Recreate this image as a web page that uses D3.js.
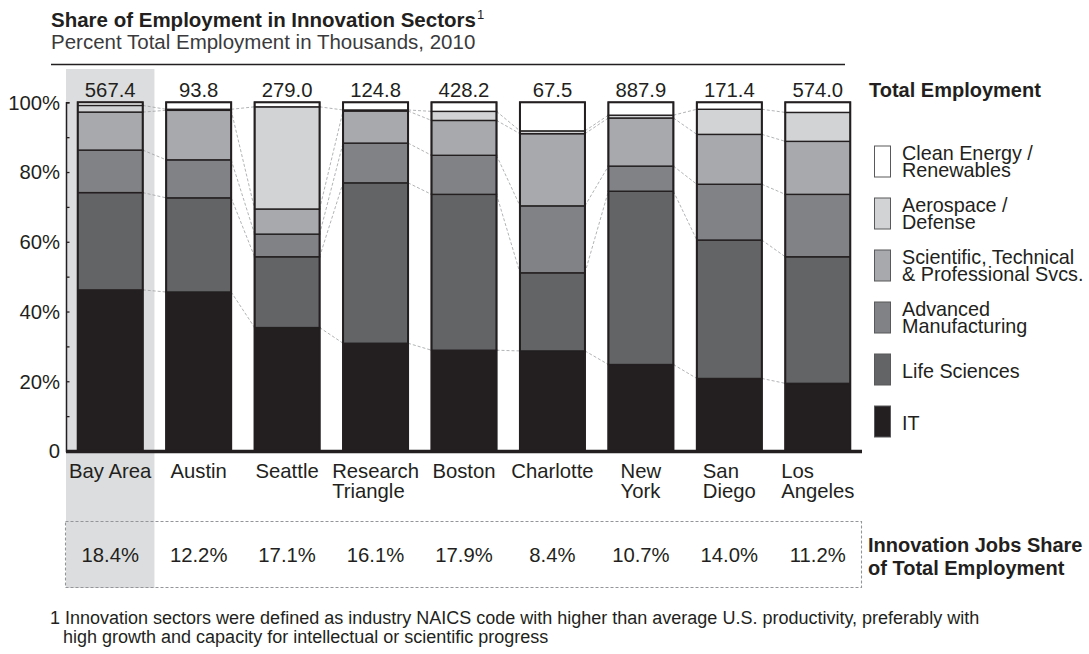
<!DOCTYPE html>
<html>
<head>
<meta charset="utf-8">
<script src="https://cdn.jsdelivr.net/npm/d3@7/dist/d3.min.js"></script>
<style>
  html, body { margin: 0; padding: 0; background: #fff; }
  svg { display: block; font-family: "Liberation Sans", Arial, Helvetica, sans-serif; }
</style>
</head>
<body>
<svg id="chart" width="1089" height="654"></svg>
<script>
// ---------------- data ----------------
const categories = ["Bay Area", "Austin", "Seattle", "Research Triangle", "Boston", "Charlotte", "New York", "San Diego", "Los Angeles"];
const categoryLines = [["Bay Area"], ["Austin"], ["Seattle"], ["Research", "Triangle"], ["Boston"], ["Charlotte"], ["New", "York"], ["San", "Diego"], ["Los", "Angeles"]];
const seriesNames = ["IT", "Life Sciences", "Advanced Manufacturing", "Scientific, Technical & Professional Svcs.", "Aerospace / Defense", "Clean Energy / Renewables"];
const it            = [46.2, 45.6, 35.4, 30.9, 28.9, 28.7, 24.8, 20.8, 19.4];
const lifeSciences  = [27.9, 27.0, 20.3, 46.0, 44.7, 22.4, 49.7, 39.7, 36.3];
const advMfg        = [12.2, 10.9,  6.5, 11.4, 11.2, 19.2,  7.2, 16.0, 17.9];
const sciTech       = [10.9, 14.2,  7.2,  9.2, 10.0, 20.7, 13.8, 14.3, 15.2];
const aerospace     = [ 1.9,  0.3, 29.3,  0.3,  2.6,  0.8,  0.8,  7.2,  8.3];
const cleanEnergy   = [ 0.9,  2.0,  1.3,  2.2,  2.6,  8.2,  3.7,  2.0,  2.9];
const totalEmployment = [567.4, 93.8, 279.0, 124.8, 428.2, 67.5, 887.9, 171.4, 574.0];
const innovationShare = [18.4, 12.2, 17.1, 16.1, 17.9, 8.4, 10.7, 14.0, 11.2];
const yTickValues = [0, 10, 20, 30, 40, 50, 60, 70, 80, 90, 100];
const legendLines = [["Clean Energy /", "Renewables"], ["Aerospace /", "Defense"], ["Scientific, Technical", "& Professional Svcs."], ["Advanced", "Manufacturing"], ["Life Sciences"], ["IT"]];
const footnoteLines = ["1 Innovation sectors were defined as industry NAICS code with higher than average U.S. productivity, preferably with",
                       "high growth and capacity for intellectual or scientific progress"];

// ---------------- style ----------------
const colors = ["#231f20", "#636466", "#808285", "#a7a9ac", "#d1d3d4", "#ffffff"];
const ink = "#231f20";

const svg = d3.select("#chart");

function txt(parent, x, y, s, o = {}) {
  return parent.append("text")
    .attr("x", x).attr("y", y)
    .attr("text-anchor", o.anchor || "start")
    .style("font-size", (o.size || 20.3) + "px")
    .style("font-weight", o.weight || 400)
    .style("fill", o.fill || ink)
    .text(s);
}

// ---------------- scales ----------------
const x = d3.scaleBand().domain(categories).range([66, 862]).paddingInner(0.265).paddingOuter(0.1325);
const y = d3.scaleLinear().domain([0, 100]).range([451, 102.3]);
const bw = x.bandwidth();

const rows = categories.map((c, i) => ({
  cat: c,
  [seriesNames[0]]: it[i], [seriesNames[1]]: lifeSciences[i], [seriesNames[2]]: advMfg[i],
  [seriesNames[3]]: sciTech[i], [seriesNames[4]]: aerospace[i], [seriesNames[5]]: cleanEnergy[i]
}));
const stacked = d3.stack().keys(seriesNames)(rows);

// ---------------- highlight ----------------
svg.append("rect")
  .attr("x", x.range()[0]).attr("y", 69)
  .attr("width", x.step()).attr("height", 588 - 69)
  .attr("fill", "#dcddde");

// ---------------- title ----------------
const title = txt(svg, 51, 27, "Share of Employment in Innovation Sectors", { size: 20.5, weight: 700 });
const tw = title.node().getComputedTextLength();
txt(svg, 51 + tw + 1, 19, "1", { size: 13 });
txt(svg, 51, 48.5, "Percent Total Employment in Thousands, 2010", { size: 20.5, fill: "#3a3a3c" });
svg.append("line").attr("x1", 51).attr("x2", 845).attr("y1", 64.5).attr("y2", 64.5)
  .attr("stroke", ink).attr("stroke-width", 1.6);

// ---------------- connectors ----------------
const conn = svg.append("g").attr("fill", "none").attr("stroke", "#9d9fa2")
  .attr("stroke-width", 0.8).attr("stroke-dasharray", "3,2");
stacked.slice(0, 5).forEach(s => {
  for (let i = 0; i < categories.length - 1; i++) {
    conn.append("line")
      .attr("x1", x(categories[i]) + bw).attr("y1", y(s[i][1]))
      .attr("x2", x(categories[i + 1])).attr("y2", y(s[i + 1][1]));
  }
});

// ---------------- bars ----------------
const layer = svg.append("g").selectAll("g").data(stacked).join("g")
  .attr("fill", (d, i) => colors[i]);
layer.selectAll("rect").data(d => d.map((v, i) => ({ v, cat: categories[i] }))).join("rect")
  .attr("x", d => x(d.cat))
  .attr("y", d => y(d.v[1]))
  .attr("width", bw)
  .attr("height", d => y(d.v[0]) - y(d.v[1]))
  .attr("stroke", ink).attr("stroke-width", 1.4);
svg.append("g").selectAll("rect").data(categories).join("rect")
  .attr("x", d => x(d)).attr("y", y(100)).attr("width", bw).attr("height", y(0) - y(100))
  .attr("fill", "none").attr("stroke", ink).attr("stroke-width", 2);

// ---------------- y axis ----------------
const yAxis = d3.axisLeft(y).tickValues(yTickValues)
  .tickSizeInner(-3.5).tickSizeOuter(-3.5).tickPadding(6)
  .tickFormat(d => d % 20 === 0 ? (d === 0 ? "0" : d + "%") : "");
const ga = svg.append("g").attr("transform", "translate(66,0)").call(yAxis);
ga.select(".domain").attr("stroke", ink).attr("stroke-width", 1.5);
ga.selectAll(".tick line").attr("stroke", ink).attr("stroke-width", 1.3);
ga.selectAll(".tick text")
  .attr("x", -6).attr("dy", "0.34em")
  .style("font-size", "20.3px").style("font-family", "Liberation Sans, Arial, sans-serif").attr("fill", ink);

// baseline
svg.append("line").attr("x1", 66).attr("x2", 862).attr("y1", y(0) + 0.5).attr("y2", y(0) + 0.5)
  .attr("stroke", ink).attr("stroke-width", 3.5);

// ---------------- total employment labels ----------------
categories.forEach((c, i) => {
  txt(svg, x(c) + bw / 2, 96.5, d3.format(".1f")(totalEmployment[i]), { anchor: "middle" });
});
txt(svg, 869, 96.5, "Total Employment", { weight: 700, size: 20 });

// ---------------- category labels ----------------
categories.forEach((c, i) => {
  const lines = categoryLines[i];
  const g = svg.append("g");
  const ts = lines.map((l, k) => txt(g, 0, 478 + k * 19.5, l));
  const w = d3.max(ts, t => t.node().getComputedTextLength());
  const x0 = x(c) + bw / 2 - w / 2;
  ts.forEach(t => t.attr("x", x0));
});

// ---------------- innovation share box ----------------
svg.append("rect").attr("x", 65.5).attr("y", 521.5).attr("width", 861.5 - 65.5).attr("height", 587.5 - 521.5)
  .attr("fill", "none").attr("stroke", "#939598").attr("stroke-width", 1.1).attr("stroke-dasharray", "3,2");
categories.forEach((c, i) => {
  txt(svg, x(c) + bw / 2, 561.5, d3.format(".1f")(innovationShare[i]) + "%", { anchor: "middle" });
});
txt(svg, 868, 551.5, "Innovation Jobs Share", { weight: 700, size: 20 });
txt(svg, 868, 574.5, "of Total Employment", { weight: 700, size: 20 });

// ---------------- legend ----------------
const legendKeys = seriesNames.slice().reverse();
legendKeys.forEach((k, j) => {
  const top = 146 + j * 52;
  const ci = seriesNames.indexOf(k);
  svg.append("rect").attr("x", 874.5).attr("y", top).attr("width", 16).attr("height", 31)
    .attr("fill", colors[ci]).attr("stroke", "#58595b").attr("stroke-width", 1);
  const lines = legendLines[j];
  if (lines.length === 2) {
    txt(svg, 902, top + 13.5, lines[0], { size: 19.8 });
    txt(svg, 902, top + 31, lines[1], { size: 19.8 });
  } else {
    txt(svg, 902, top + 23.5, lines[0], { size: 19.8 });
  }
});

// ---------------- footnote ----------------
txt(svg, 50, 624, footnoteLines[0], { size: 18 });
txt(svg, 63, 643, footnoteLines[1], { size: 18 });
</script>
</body>
</html>
